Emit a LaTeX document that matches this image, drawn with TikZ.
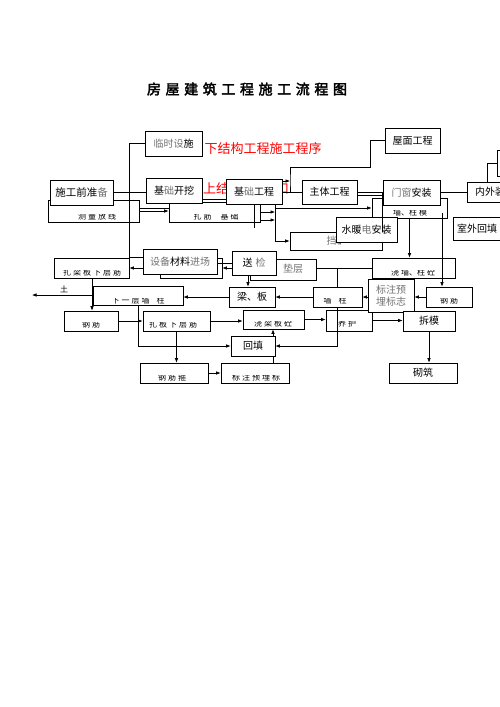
\documentclass[tikz,border=0pt]{standalone}
\usepackage{fontspec}
\setmainfont{Noto Sans CJK SC}
\newfontfamily\titlefont[FakeBold=2.5]{Noto Sans CJK SC}
\usetikzlibrary{arrows.meta,calc}
\colorlet{tg}{black!55}
\tikzset{
 bx/.style={draw=black, line width=0.6pt, fill=white, inner sep=0pt, align=center, font=\fontsize{10}{12}\selectfont},
 ln/.style={draw=black, line width=0.6pt},
 ar/.style={ln, -{Latex[length=4.5pt,width=3.5pt]}},
 cut/.style={inner sep=0pt, font=\fontsize{8}{9}\selectfont},
 lbl/.style={inner sep=0pt},
 redtxt/.style={lbl, text=red, font=\fontsize{13}{15}\selectfont},
}
\newcommand\Bx[7][]{\node[bx,minimum width={#5-#3},minimum height={#6-#4},#1] (#2) at ({(#3+#5)/2},{(#4+#6)/2}) {#7};}
\newcommand\Ht[4]{\begin{scope}\clip ({#2-45},{#3-1.6}) rectangle ({#2+45},{#3+7});\node[cut] (#1) at (#2,#3) {#4};\end{scope}}
\newcommand\g{\hspace{2pt}}
\newcommand\tk{\kern4.6pt}
\begin{document}
\begin{tikzpicture}[x=1pt,y=-1pt]
\useasboundingbox (0,0) rectangle (500,707);
\clip (0,0) rectangle (500,707);
\fill[white] (0,0) rectangle (500,707);

% title
\node[lbl] (title) at (247,89) {\titlefont\fontsize{14}{16}\selectfont 房\tk{}屋\tk{}建\tk{}筑\tk{}工\tk{}程\tk{}施\tk{}工\tk{}流\tk{}程\tk{}图};

% red texts
\node[redtxt] (red1) at (263,149) {下结构工程施工程序};
\node[redtxt, anchor=west] (red2) at (203,189) {上结};
\begin{scope}
\clip (282,180) rectangle (291,198);
\node[redtxt, anchor=west] (red2b) at (276,189) {口};
\end{scope}

% boxes
\Bx{linshi}{145}{131}{202}{156}{\textcolor{tg}{临时设}施}
\Bx{celiang}{48}{200}{139}{222}{}
\Ht{celiangt}{97}{216}{测\g{}量\g{}放\g{}线}
\Bx[font=\fontsize{10.5}{12}\selectfont]{qianzhunbei}{50}{180}{113}{205}{施工前准\textcolor{tg}{备}}
\Bx{zhajin}{169}{202}{260}{222}{}
\Ht{zhajint}{216}{216}{扎\g{}筋\hspace{9pt}基\g{}础}
\Bx{jichukaiwa}{146}{178}{202}{203}{基\textcolor{tg}{础}开挖}
\Bx{jichugongcheng}{226}{179}{282}{204}{基\textcolor{tg}{础}工程}
\Bx{zhuti}{302}{180}{357}{204}{主体工程}
\Bx{wumian}{385}{128}{440}{153}{屋面工程}
\Bx{qiangzhumo}{372}{198}{447}{218}{}
\Ht{qiangzhumot}{410}{212}{墙、柱\g{}模}
\Bx{menchuang}{383}{180}{440}{205}{\textcolor{tg}{门窗}安装}
\Bx{neiwai}{467}{182}{530}{202}{}
\node[lbl, anchor=west, font=\fontsize{10}{12}\selectfont] (neiwait) at (475,192) {内外装饰};
\Bx{topright}{497}{150}{530}{176}{}
\Bx{shiwai}{453}{217}{530}{240}{}
\node[lbl, anchor=west, font=\fontsize{10}{12}\selectfont] (shiwait) at (457,228.5) {室外回填};
\Bx{dangqiang}{290}{232}{382}{250}{}
\node[lbl, font=\fontsize{10}{12}\selectfont] (dangqiangt) at (334,241) {\textcolor{tg}{挡}{\fontsize{5}{6}\selectfont 墙}};
\Bx{shuinuan}{336}{217}{397}{242}{水暖\textcolor{tg}{电}安装}
\Bx{jiaoqiangzhu}{372}{258}{455}{278}{}
\Ht{jiaoqiangzhut}{413}{272}{浇\g{}墙、柱\g{}砼}
\Bx{dianceng}{250}{259}{316}{280}{}
\node[lbl, text=tg, font=\fontsize{10}{12}\selectfont] (diancengt) at (293,269) {垫层};
\Bx{songjian}{232}{251}{276}{275}{送\hspace{3pt}\textcolor{tg}{检}}
\Bx{shebeib}{160}{258}{222}{278}{}
\Bx{shebei}{143}{249}{217}{274}{\textcolor{tg}{设备}材料\textcolor{tg}{进场}}
\Bx{zhaliangban}{54}{258}{129}{278}{}
\Ht{zhaliangbant}{92}{272}{扎\g{}梁\g{}板\g{}下\g{}层\g{}筋}
\Bx{xiayiceng}{93}{286}{183}{305}{}
\Ht{xiayicengt}{138}{300}{下\g{}一\g{}层\g{}墙\hspace{7pt}柱}
\Bx{liangban}{229}{287}{275}{307}{梁、板}
\Bx{qiangzhu}{313}{287}{362}{307}{}
\Ht{qiangzhut}{335}{300}{墙\hspace{7pt}柱}
\Bx{yanghu}{326}{310}{372}{331}{}
\Ht{yanghut}{347}{323}{养\g{}护}
\Bx[text=tg]{biaozhu}{368}{279}{414}{312}{标注预\\埋标志}
\Bx{gangjin2}{426}{287}{472}{307}{}
\Ht{gangjin2t}{449}{300}{钢\g{}筋}
\Bx{chaimo}{403}{311}{455}{331}{拆模}
\Bx{qizhu}{389}{363}{457}{383}{砌筑}
\Bx{jiaoliangban}{243}{310}{304}{329}{}
\Ht{jiaoliangbant}{273}{323}{浇\g{}梁\g{}板\g{}砼}
\Bx{huitian}{231}{336}{275}{356}{回填}
\Bx{biaozhu2}{221}{363}{289}{383}{}
\Ht{biaozhu2t}{256}{377}{标\g{}注\g{}预\g{}埋\g{}标}
\Bx{gangjingu}{140}{363}{208}{383}{}
\Ht{gangjingut}{172}{377}{钢\g{}筋\g{}箍}
\Bx{zhabanxia}{143}{311}{210}{331}{}
\Ht{zhabanxiat}{173}{324}{扎\g{}板\g{}下\g{}层\g{}筋}
\Bx{gangjin1}{64}{311}{118}{331}{}
\Ht{gangjin1t}{91}{324}{钢\g{}筋}
\node[lbl, font=\fontsize{8}{9}\selectfont] (tu) at (64,289) {土};

% coordinates
\coordinate (j1) at (290,181);
\coordinate (j3) at (370,167);
\coordinate (k0) at (275,0);
\coordinate (t1) at (487,0);
\coordinate (q1) at (442,213);
\coordinate (v1) at (248,0);
\coordinate (w1) at (337,0);
\coordinate (u1) at (92,0);
\coordinate (tu0) at (32,295);
\coordinate (h1) at (273,0);
\coordinate (m1) at (260,205);
\coordinate (m2) at (260,220);
\coordinate (m3) at (275,212);
\coordinate (m5) at (254,228);

% connectors
\draw[ln] (linshi.west) -| (zhaliangban.north east) -- (zhaliangban.north east -| shebei.west);
\draw[ln] (qianzhunbei.east) -- (qianzhunbei.east -| jichukaiwa.west);
\draw[ar] (celiang.east) -- (celiang.east -| zhajin.west);
\draw[ln] ([yshift=3pt]celiang.east) -- ([yshift=3pt]celiang.east -| zhajin.west);
\draw[ln] ([yshift=-8.5pt]jichukaiwa.east) -- ([yshift=-8.5pt]jichukaiwa.east -| jichugongcheng.west);
\draw[ar] (j1 -| jichugongcheng.east) -- (j1);
\draw[ln] (wumian.west) -| (j3) -| (j1) |- (zhuti.west);
\draw[ln] (jichugongcheng.east |- zhuti.west) -- (zhuti.west);
\draw[ln] (zhuti.east) -- (zhuti.east -| menchuang.west);
\draw[ln] ([yshift=-3pt]zhuti.east) -- ([yshift=-3pt]zhuti.east -| menchuang.west);
\draw[ln] (dangqiang.north east) -- (dangqiang.north east |- menchuang.west);
\draw[ar] (jichugongcheng.south -| k0) |- (qiangzhumo.west);
\draw[ar] (jichugongcheng.south -| k0) |- (dangqiang.west);
\draw[ln] (m1) -- (m2);
\draw[ar] (m1 |- m3) -- (m3);
\draw[ar] (m2) -- (m2 -| m3);
\draw[ln] (m5 |- jichugongcheng.south) -- (m5);
\draw[ln] (menchuang.east) -- (menchuang.east -| neiwai.west);
\draw[ln] (neiwai.north -| t1) |- (topright.west);
\draw[ar] (qiangzhumo.south) -- (qiangzhumo.south |- jiaoqiangzhu.north);
\draw[ar] (q1) -- (q1 |- gangjin2.north);
\draw[ar] (gangjin2.west) -- (gangjin2.west -| biaozhu.east);
\draw[ar] (qiangzhu.east -| biaozhu.west) -- (qiangzhu.east);
\draw[ar] (qiangzhu.west) -- (qiangzhu.west -| liangban.east);
\draw[ar] (liangban.west) -- (liangban.west -| xiayiceng.east);
\draw[ar] (songjian.south -| v1) -- (liangban.north -| v1);
\draw[ln] (songjian.west) -- (songjian.west -| shebei.east);
\draw[ar] ([yshift=-5pt]songjian.west) -- ([yshift=-5pt]songjian.west -| shebeib.east);
\draw[ar] (zhaliangban.east -| shebei.west) -- (zhaliangban.east);
\draw[ln] (dianceng.east |- jiaoqiangzhu.west) -- (jiaoqiangzhu.west);
\draw[ln] (jiaoqiangzhu.west -| w1) -- (qiangzhu.north -| w1);
\draw[ar] (qiangzhu.south -| w1) |- (huitian.east);
\draw[ar] (zhaliangban.south -| u1) -- (gangjin1.north -| u1);
\draw[ar] (tu0 -| u1) -- (tu0);
\draw[ar] (gangjin1.east) -- (gangjin1.east -| zhabanxia.west);
\draw[ar] (xiayiceng.south) |- (huitian.west);
\draw[ar] (zhabanxia.east) -- (zhabanxia.east -| jiaoliangban.west);
\draw[ar] (jiaoliangban.east) -- (jiaoliangban.east -| yanghu.west);
\draw[ar] (yanghu.east) -- (yanghu.east -| chaimo.west);
\draw[ar] (chaimo.south) -- (chaimo.south |- qizhu.north);
\draw[ar] (zhabanxia.south) -- (zhabanxia.south |- gangjingu.north);
\draw[ar] (gangjingu.east) -- (gangjingu.east -| biaozhu2.west);
\draw[ln] (huitian.south -| h1) -- (biaozhu2.north -| h1);
\draw[ar] (huitian.north -| h1) -- (jiaoliangban.south -| h1);
\end{tikzpicture}
\end{document}
